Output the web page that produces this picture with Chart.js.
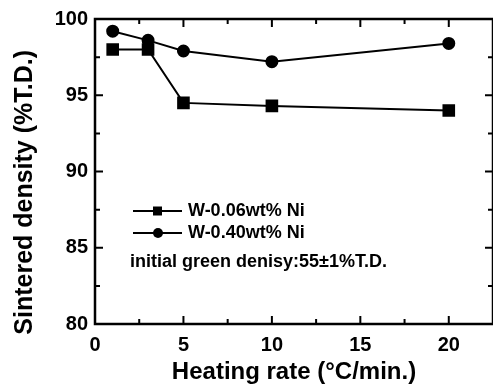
<!DOCTYPE html>
<html>
<head>
<meta charset="utf-8">
<script src="https://cdn.jsdelivr.net/npm/chart.js@4.4.1/dist/chart.umd.min.js"></script>
<style>
  html, body { margin: 0; padding: 0; background: #fff; overflow: hidden; }
  #wrap { position: relative; width: 493px; height: 392px; }
  #wrap canvas { display: block; }
</style>
</head>
<body>
<div id="wrap"><canvas id="densityChart"></canvas></div>
<script>
// Heating rate (°C/min.)
const heatingRates = [1, 3, 5, 10, 20];
// Sintered density (%T.D.)
const densityNi006 = [98.0, 98.0, 94.5, 94.3, 94.0];
const densityNi040 = [99.2, 98.6, 97.9, 97.2, 98.4];
const seriesNames = ["W-0.06wt% Ni", "W-0.40wt% Ni"];
const noteText = "initial green denisy:55\u00b11%T.D.";
const xTicks = [0, 5, 10, 15, 20];
const yTicks = [80, 85, 90, 95, 100];

const FONT = "'Liberation Sans', Arial, sans-serif";

function toPoints(xs, ys) {
  return xs.map((x, i) => ({ x: x, y: ys[i] }));
}

// frame + inward ticks on all four sides
const frameTicks = {
  id: 'frameTicks',
  afterDatasetsDraw(chart) {
    const { ctx, chartArea: a, scales: { x, y } } = chart;
    ctx.save();
    ctx.strokeStyle = '#000';
    ctx.lineWidth = 2.5;
    ctx.strokeRect(a.left, a.top, a.right - a.left, a.bottom - a.top);
    ctx.lineWidth = 2;
    ctx.beginPath();
    const xStep = xTicks[1] - xTicks[0];
    for (let v = xTicks[0]; v <= x.max; v += xStep / 2) {
      const len = (v % xStep === 0) ? 8 : 5;
      const px = x.getPixelForValue(v);
      ctx.moveTo(px, a.bottom); ctx.lineTo(px, a.bottom - len);
      ctx.moveTo(px, a.top); ctx.lineTo(px, a.top + len);
    }
    const yStep = yTicks[1] - yTicks[0];
    for (let v = yTicks[0]; v <= y.max; v += yStep / 2) {
      const len = ((v - yTicks[0]) % yStep === 0) ? 8 : 5;
      const py = y.getPixelForValue(v);
      ctx.moveTo(a.left, py); ctx.lineTo(a.left + len, py);
      ctx.moveTo(a.right, py); ctx.lineTo(a.right - len, py);
    }
    ctx.stroke();
    ctx.restore();
  }
};

// legend drawn inside the plot, line + marker style
const innerLegend = {
  id: 'innerLegend',
  afterDraw(chart) {
    const { ctx, chartArea: a } = chart;
    const x0 = a.left + 38;
    const rows = [a.top + 192, a.top + 214];
    ctx.save();
    ctx.fillStyle = '#000';
    ctx.strokeStyle = '#000';
    ctx.lineWidth = 2;
    ctx.font = 'bold 18px ' + FONT;
    ctx.textBaseline = 'middle';
    rows.forEach((ry, i) => {
      ctx.beginPath();
      ctx.moveTo(x0, ry); ctx.lineTo(x0 + 49, ry);
      ctx.stroke();
      ctx.beginPath();
      if (i === 0) {
        ctx.rect(x0 + 20, ry - 4.5, 9, 9);
      } else {
        ctx.arc(x0 + 25, ry, 5, 0, Math.PI * 2);
      }
      ctx.fill();
      ctx.fillText(seriesNames[i], x0 + 55, ry);
    });
    ctx.fillText(noteText, x0 - 3, a.top + 243);
    ctx.restore();
  }
};

const densityCtx = document.getElementById('densityChart').getContext('2d');
new Chart(densityCtx, {
  type: 'line',
  data: {
    datasets: [{
      label: seriesNames[0],
      data: toPoints(heatingRates, densityNi006),
      borderColor: '#000',
      backgroundColor: '#000',
      borderWidth: 2,
      pointStyle: 'rect',
      pointRadius: 7.5,
      pointHoverRadius: 7.5,
      clip: false
    }, {
      label: seriesNames[1],
      data: toPoints(heatingRates, densityNi040),
      borderColor: '#000',
      backgroundColor: '#000',
      borderWidth: 2,
      pointStyle: 'circle',
      pointRadius: 5.5,
      pointHoverRadius: 5.5,
      clip: false
    }]
  },
  options: {
    responsive: true,
    maintainAspectRatio: false,
    animation: false,
    events: [],
    layout: { autoPadding: false, padding: { top: 19, right: -3, left: 0, bottom: 0 } },
    plugins: { legend: { display: false }, tooltip: { enabled: false } },
    scales: {
      x: {
        type: 'linear',
        min: 0,
        max: 22.5,
        grid: { display: false, drawTicks: false },
        border: { display: false },
        afterBuildTicks: (scale) => { scale.ticks = xTicks.map(v => ({ value: v })); },
        afterFit: (scale) => { scale.height = 68; scale.paddingLeft = 0; scale.paddingRight = 0; },
        ticks: { color: '#000', padding: 9, font: { family: FONT, size: 20, weight: 'bold' } },
        title: {
          display: true,
          text: 'Heating rate (\u00b0C/min.)',
          color: '#000',
          padding: { top: 0, bottom: 5 },
          font: { family: FONT, size: 24, weight: 'bold' }
        }
      },
      y: {
        min: 80,
        max: 100,
        grid: { display: false, drawTicks: false },
        border: { display: false },
        afterBuildTicks: (scale) => { scale.ticks = yTicks.map(v => ({ value: v })); },
        afterFit: (scale) => { scale.width = 95; },
        ticks: { color: '#000', padding: 7, font: { family: FONT, size: 20, weight: 'bold' } },
        title: {
          display: true,
          text: 'Sintered density (%T.D.)      ',
          color: '#000',
          padding: { top: 10, bottom: 0 },
          font: { family: FONT, size: 25, weight: 'bold' }
        }
      }
    }
  },
  plugins: [frameTicks, innerLegend]
});
</script>
</body>
</html>
